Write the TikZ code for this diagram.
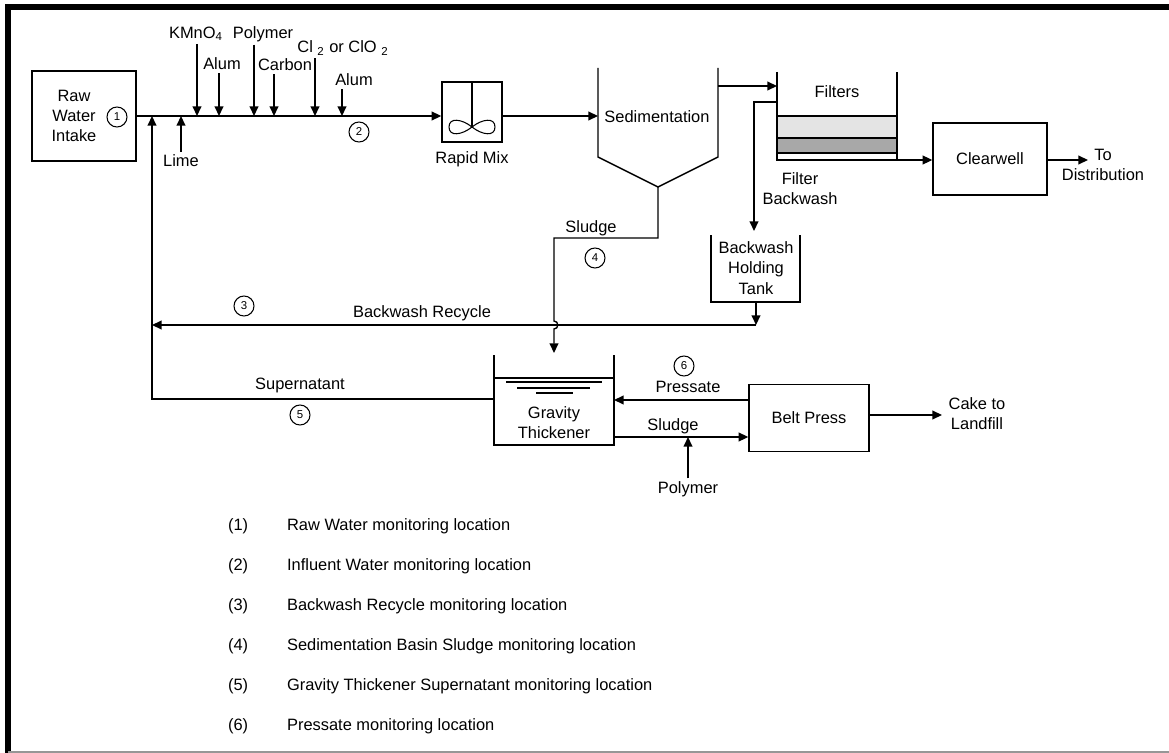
\documentclass[tikz,border=0pt]{standalone}
\usepackage{fontspec}
\setmainfont{Liberation Sans}
\usetikzlibrary{arrows.meta,positioning}
\definecolor{framegrey}{RGB}{150,150,150}
\definecolor{medialight}{RGB}{228,228,228}
\definecolor{mediadark}{RGB}{168,168,168}

\tikzset{
  pipe/.style={line width=0.8pt},
  flow/.style={line width=0.8pt, -{Triangle[length=5.5pt,width=5pt]}},
  unit/.style={draw, line width=0.8pt, align=center, inner sep=0pt},
  chem/.style={inner sep=1.5pt, align=center},
  lbl/.style={inner sep=1pt, align=center},
  mon/.style={draw, circle, line width=0.6pt, minimum size=0.4cm, inner sep=0pt,
              font=\fontsize{6.5}{7}\selectfont},
}

\begin{document}
\begin{tikzpicture}[x=0.02cm, y=-0.02cm, font=\fontsize{9.35}{11.5}\selectfont]
  \useasboundingbox (0,0) rectangle (1169,753);
  % Frame
  \draw[line width=3pt] (8,753) -- (8,7) -- (1169,7);
  \draw[framegrey, line width=1pt] (8,752) -- (1169,752);

  % Raw water intake
  \node[unit, minimum width=2.08cm, minimum height=1.8cm] (intake) at (84,116) {};
  \node[lbl] (intaketxt) at (74,116) {Raw\\Water\\Intake};
  \node[mon] (mon1) at (117,117) {1};

  % Chemical feeds
  \coordinate (rtn) at (152,116);
  \node[chem] (kmno4) at (196,34) {KMnO\textsubscript{4}};
  \node[chem] (alum1) at (222,64) {Alum};
  \node[chem] (poly1) at (263,34) {Polymer};
  \node[chem] (carbon) at (285,65) {Carbon};
  \node[chem] (chlor) at (343,48) {Cl \textsubscript{2} or ClO \textsubscript{2}};
  \node[chem] (alum2) at (354,80) {Alum};
  \node[chem] (lime) at (181,161) {Lime};
  \foreach \src/\xx in {kmno4/197, alum1/219, poly1/254, carbon/274, chlor/315, alum2/342}
    \draw[flow] (\src.south -| \xx,0) -- (\xx,116);
  \draw[flow] (lime.north -| 181,0) -- (181,116);
  \node[mon] (mon2) at (359,132) {2};

  % Rapid mix
  \node[unit, minimum width=1.2cm, minimum height=1.2cm] (rapidmix) at (472,112) {};
  \draw[pipe] (rapidmix.north) -- (472,127);
  \draw[line width=0.6pt] (472,127) .. controls (462,119) and (449,117) .. (449,127)
    .. controls (449,137) and (462,135) .. (472,127)
    .. controls (482,119) and (495,117) .. (495,127)
    .. controls (495,137) and (482,135) .. (472,127);
  \node[lbl, below=0.14cm of rapidmix] (rmtxt) {Rapid Mix};
  \draw[flow] (intake.east) -- (intake.east -| rapidmix.west);

  % Sedimentation
  \coordinate (sedin) at (598,116);
  \coordinate (sedbot) at (658,187);
  \coordinate (sedout) at (718,86);
  \draw[pipe] (598,68) -- (598,157) -- (sedbot) -- (718,157) -- (718,68);
  \node[lbl] (sedtxt) at (657,117) {Sedimentation};
  \draw[flow] (rapidmix.east |- intake.east) -- (sedin);

  % Filters
  \coordinate (filtin) at (777,86);
  \coordinate (filtbw) at (777,102);
  \coordinate (filtout) at (897,160);
  \filldraw[pipe, fill=medialight] (777,116) rectangle (897,138);
  \filldraw[pipe, fill=mediadark] (777,138) rectangle (897,153);
  \draw[pipe] (777,72) -- (777,160) -- (filtout) -- (897,72);
  \node[lbl] (filttxt) at (837,92) {Filters};
  \draw[flow] (sedout) -- (filtin);
  \node[lbl] (fbwtxt) at (800,189) {Filter\\Backwash};

  % Clearwell
  \node[unit, minimum width=2.28cm, minimum height=1.44cm] (clearwell) at (990,159) {Clearwell};
  \coordinate (todist) at (1088,160);
  \node[lbl] (disttxt) at (1103,165) {To\\Distribution};
  \draw[flow] (filtout) -- (filtout -| clearwell.west);
  \draw[flow] (clearwell.east |- filtout) -- (todist);

  % Backwash holding tank
  \coordinate (bwin) at (754,231);
  \coordinate (bwout) at (756,302);
  \coordinate (bwjoin) at (756,325);
  \draw[pipe] (711,235) -- (711,302) -- (800,302) -- (800,235);
  \node[lbl] (bwtxt) at (756,268) {Backwash\\Holding\\Tank};
  \draw[flow] (filtbw) -- (754,102) -- (bwin);
  \draw[flow] (bwout) -- (bwjoin);
  \draw[flow] (bwjoin) -- (152,325);
  \node[lbl] (bwrtxt) at (422,313) {Backwash Recycle};
  \node[mon] (mon3) at (244,306) {3};

  % Sludge from sedimentation
  \coordinate (gtin) at (554,353);
  \draw[flow] (sedbot) -- (658,238) -- (554,238) -- (554,321)
    .. controls (559,321) and (559,329) .. (554,329) -- (gtin);
  \node[lbl] (sludge1) at (591,228) {Sludge};
  \node[mon] (mon4) at (595,258) {4};

  % Gravity thickener
  \coordinate (gtsup) at (494,399);
  \coordinate (gtpress) at (614,400);
  \coordinate (gtsl) at (614,437);
  \draw[pipe] (494,355) -- (494,445) -- (614,445) -- (614,355);
  \draw[pipe] (494,378) -- (614,378);
  \draw[line width=0.6pt] (506,382) -- (602,382) (517,388) -- (590,388) (536,393) -- (573,393);
  \node[lbl] (gttxt) at (554,423) {Gravity\\Thickener};
  \draw[flow] (gtsup) -- (152,399) -- (rtn);
  \node[lbl] (suptxt) at (300,385) {Supernatant};
  \node[mon] (mon5) at (300,415) {5};

  % Belt press
  \node[unit, minimum width=2.4cm, minimum height=1.34cm] (beltpress) at (809,418) {Belt Press};
  \draw[flow] (beltpress.west |- gtpress) -- (gtpress);
  \draw[flow] (gtsl) -- (beltpress.west |- gtsl);
  \node[lbl] (presstxt) at (688,387) {Pressate};
  \node[mon] (mon6) at (684,366) {6};
  \node[lbl] (sludge2) at (673,426) {Sludge};
  \node[chem] (poly2) at (688,489) {Polymer};
  \draw[flow] (poly2.north) -- (poly2.north |- gtsl);
  \coordinate (cake) at (942,415);
  \draw[flow] (beltpress.east |- cake) -- (cake);
  \node[lbl] (caketxt) at (977,414) {Cake to\\Landfill};

  % Legend
  \foreach \n/\txt in {1/Raw Water monitoring location,
                      2/Influent Water monitoring location,
                      3/Backwash Recycle monitoring location,
                      4/Sedimentation Basin Sludge monitoring location,
                      5/Gravity Thickener Supernatant monitoring location,
                      6/Pressate monitoring location} {
    \node[lbl, anchor=west] (leg\n) at (226,486+40*\n) {(\n)};
    \node[lbl, anchor=west] (legtxt\n) at (285,486+40*\n) {\txt};
  }
\end{tikzpicture}
\end{document}
